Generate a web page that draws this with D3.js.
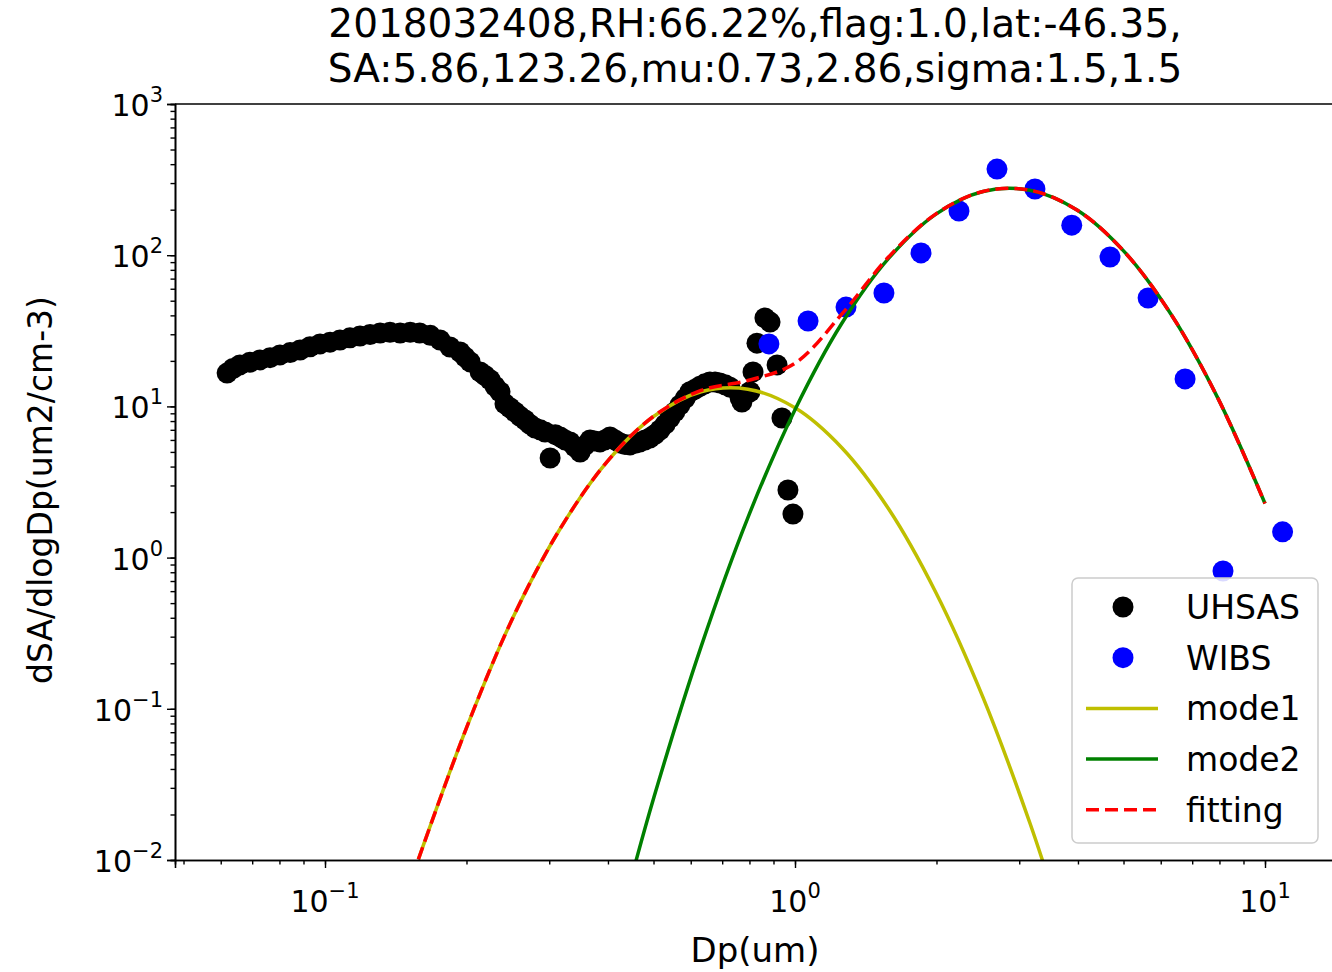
<!DOCTYPE html>
<html>
<head>
<meta charset="utf-8">
<script src="https://cdn.jsdelivr.net/npm/d3@7"></script>
<style>
  body { margin: 0; background: #fff; }
  text { font-family: "DejaVu Sans", sans-serif; fill: #000; }
</style>
</head>
<body>
<svg id="chart" width="1332" height="972"></svg>
<script>
// UHSAS measurements (Dp in um, dSA/dlogDp)
var uhsasDp = [0.0619,0.0637,0.0659,0.0692,0.0727,0.0764,0.0802,0.0843,0.0885,0.0929,0.0976,0.1025,0.1076,0.113,0.1187,0.1247,0.131,0.1375,0.1445,0.1518,0.159,0.1675,0.1757,0.1845,0.1938,0.1987,0.2036,0.2138,0.219,0.2245,0.230,0.2357,0.2415,0.2475,0.2537,0.260,0.2665,0.273,0.2799,0.287,0.2939,0.3013,0.309,0.3164,0.324,0.3322,0.340,0.349,0.357,0.3664,0.375,0.3847,0.394,0.404,0.414,0.4245,0.435,0.4457,0.457,0.468,0.480,0.491,0.503,0.516,0.529,0.542,0.555,0.569,0.584,0.598,0.613,0.628,0.643,0.659,0.676,0.692,0.710,0.727,0.764,0.771,0.802,0.814,0.830,0.863,0.885,0.916,0.938,0.966,0.990];
var uhsasVal = [16.6,17.8,18.8,19.6,20.3,21.0,21.9,22.7,23.6,24.8,25.9,26.6,27.5,28.4,29.2,29.9,30.6,30.9,30.6,30.9,30.6,29.5,27.5,24.7,22.9,21.2,19.7,16.9,16.0,15.0,13.6,12.5,10.4,9.8,9.18,8.6,8.13,7.6,7.20,7.0,6.77,4.56,6.5,6.28,6.0,5.82,5.4,4.99,5.5,6.00,5.9,5.82,6.0,6.28,6.0,5.73,5.6,5.56,5.7,5.82,6.0,6.18,6.5,6.98,7.6,8.38,9.2,10.2,11.3,12.5,13.0,13.6,14.1,14.5,14.5,14.3,13.9,13.4,11.4,10.7,12.5,16.9,26.2,38.5,36.1,18.8,8.38,2.80,1.94];

// WIBS measurements
var wibsDp = [0.880,1.066,1.284,1.546,1.854,2.233,2.69,3.24,3.88,4.68,5.64,6.76,8.14,10.9];
var wibsVal = [25.9,36.7,45.4,56.2,103.5,196,371,274,158,97.3,52.1,15.2,0.815,1.48];

// fitted modes
var mode1Dp = [0.158,0.2,0.251,0.316,0.398,0.501,0.631,0.794,1.0,1.259,1.585,1.995,2.512,3.162,3.548];
var mode1Val = [0.0101,0.0748,0.400,1.54,4.30,8.61,12.5,13.0,9.79,5.31,2.08,0.586,0.119,0.0175,0.0059];
var mode2Dp = [0.447,0.501,0.631,0.794,1.0,1.259,1.585,1.995,2.512,3.162,3.981,5.012,6.31,7.943,10];
var mode2Val = [0.00731,0.026,0.257,1.84,9.51,35.6,95.9,187,264,269,199,106,40.7,11.3,2.28];
var fitDp = [0.158,0.2,0.251,0.316,0.398,0.501,0.631,0.794,1.0,1.259,1.585,1.995,2.512,3.162,3.981,5.012,6.31,7.943,10];
var fitVal = [0.0101,0.0748,0.400,1.54,4.30,8.64,12.76,14.84,19.3,40.9,98,187.6,264.1,269,199,106,40.7,11.3,2.28];

var titleLines = ["2018032408,RH:66.22%,flag:1.0,lat:-46.35,", "SA:5.86,123.26,mu:0.73,2.86,sigma:1.5,1.5"];
var xTicks = [0.1, 1, 10], xTickExp = ["\u22121", "0", "1"];
var yTicks = [0.01, 0.1, 1, 10, 100, 1000], yTickExp = ["\u22122", "\u22121", "0", "1", "2", "3"];

var svg = d3.select("#chart");
var pLeft = 175, pTop = 104, pBottom = 860, pRight = 1345;

var x = d3.scaleLog().domain([Math.pow(10, -620 / 470), Math.pow(10, 550 / 470)]).range([pLeft, pRight]);
var y = d3.scaleLog().domain([0.01, 1000]).range([pBottom, pTop]);

svg.append("defs").append("clipPath").attr("id", "clip")
  .append("rect").attr("x", pLeft).attr("y", pTop).attr("width", pRight - pLeft).attr("height", pBottom - pTop);

var plot = svg.append("g").attr("clip-path", "url(#clip)");

function drawLine(xs, ys, color, dash) {
  var pts = xs.map(function(d, i) { return [d, ys[i]]; });
  plot.append("path").datum(pts)
    .attr("fill", "none").attr("stroke", color).attr("stroke-width", 3.5)
    .attr("stroke-dasharray", dash || null)
    .attr("d", d3.line().curve(d3.curveCatmullRom)
      .x(function(d) { return x(d[0]); }).y(function(d) { return y(d[1]); }));
}

function drawDots(xs, ys, color) {
  plot.append("g").selectAll("circle").data(xs).enter().append("circle")
    .attr("cx", function(d) { return x(d); })
    .attr("cy", function(d, i) { return y(ys[i]); })
    .attr("r", 10.5).attr("fill", color);
}

drawDots(uhsasDp, uhsasVal, "#000");
drawDots(wibsDp, wibsVal, "#0000ff");
drawLine(mode1Dp, mode1Val, "#bfbf00");
drawLine(mode2Dp, mode2Val, "#008000");
drawLine(fitDp, fitVal, "#ff0000", "13,6");

// axes
var xAxis = d3.axisBottom(x).tickSizeOuter(0).tickValues(xTicks).tickSize(8).tickFormat("");
var xMinor = d3.axisBottom(x).tickSizeOuter(0).ticks(30).tickSize(4.5).tickFormat("");
var yAxis = d3.axisLeft(y).tickSizeOuter(0).tickValues(yTicks).tickSize(8).tickFormat("");
var yMinor = d3.axisLeft(y).tickSizeOuter(0).ticks(30).tickSize(4.5).tickFormat("");

svg.append("g").attr("transform", "translate(0," + pBottom + ")").call(xMinor);
svg.append("g").attr("transform", "translate(0," + pBottom + ")").call(xAxis);
svg.append("g").attr("transform", "translate(" + pLeft + ",0)").call(yMinor);
svg.append("g").attr("transform", "translate(" + pLeft + ",0)").call(yAxis);
svg.selectAll(".domain").attr("stroke-width", 1.6);
svg.selectAll(".tick line").attr("stroke-width", 1.4);
svg.append("line").attr("x1", pLeft).attr("x2", pRight).attr("y1", pTop).attr("y2", pTop)
  .attr("stroke", "#000").attr("stroke-width", 1.6);

function powLabel(g, exp) {
  g.append("tspan").text("10");
  g.append("tspan").attr("dy", -14).attr("font-size", 21).text(exp);
}
xTicks.forEach(function(t, i) {
  var g = svg.append("text").attr("x", x(t)).attr("y", pBottom + 52)
    .attr("text-anchor", "middle").attr("font-size", 30);
  powLabel(g, xTickExp[i]);
});
yTicks.forEach(function(t, i) {
  var g = svg.append("text").attr("x", pLeft - 12).attr("y", y(t) + 12)
    .attr("text-anchor", "end").attr("font-size", 30);
  powLabel(g, yTickExp[i]);
});

svg.append("text").attr("x", 755).attr("y", 962).attr("text-anchor", "middle")
  .attr("font-size", 34).text("Dp(um)");
svg.append("text").attr("transform", "translate(52,490) rotate(-90)").attr("text-anchor", "middle")
  .attr("font-size", 33).text("dSA/dlogDp(um2/cm-3)");
titleLines.forEach(function(s, i) {
  svg.append("text").attr("x", 755).attr("y", 37 + i * 45).attr("text-anchor", "middle")
    .attr("font-size", 39).text(s);
});

// legend
var leg = svg.append("g");
leg.append("rect").attr("x", 1072).attr("y", 578).attr("width", 246).attr("height", 265).attr("rx", 6)
  .attr("fill", "#fff").attr("fill-opacity", 0.85).attr("stroke", "#ccc").attr("stroke-width", 1.5);
var legItems = [
  {label: "UHSAS", type: "dot", color: "#000"},
  {label: "WIBS", type: "dot", color: "#0000ff"},
  {label: "mode1", type: "line", color: "#bfbf00"},
  {label: "mode2", type: "line", color: "#008000"},
  {label: "fitting", type: "line", color: "#ff0000", dash: "13,6"}
];
legItems.forEach(function(d, i) {
  var cy = 607 + i * 50.7;
  if (d.type === "dot") {
    leg.append("circle").attr("cx", 1123).attr("cy", cy).attr("r", 10.5).attr("fill", d.color);
  } else {
    leg.append("line").attr("x1", 1086).attr("x2", 1158).attr("y1", cy).attr("y2", cy)
      .attr("stroke", d.color).attr("stroke-width", 3.5).attr("stroke-dasharray", d.dash || null);
  }
  leg.append("text").attr("x", 1186).attr("y", cy + 12).attr("font-size", 33).text(d.label);
});
</script>
</body>
</html>
